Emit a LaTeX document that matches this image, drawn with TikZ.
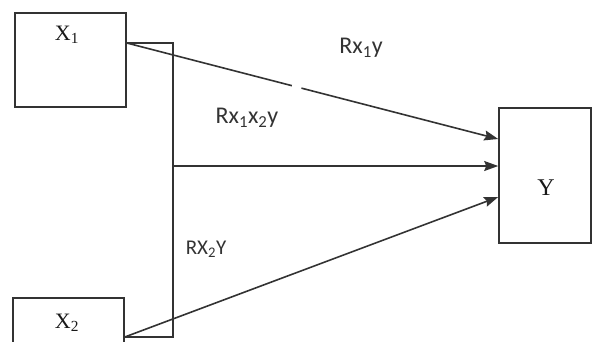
\documentclass[tikz,border=0pt]{standalone}
\usepackage{fontspec}
\setmainfont{Liberation Serif}
\newfontfamily\lblfont{Carlito}
\usetikzlibrary{arrows.meta,calc}
\definecolor{ln}{HTML}{333333}
\tikzset{
  box/.style={draw=ln, line width=1.6pt, fill=white, inner sep=0pt},
  conn/.style={draw=ln, line width=1.6pt},
  arr/.style={conn, -{Stealth[length=14pt,width=10pt,inset=2pt]}},
  vartext/.style={font=\fontsize{22}{26}\selectfont, text=black!90, inner sep=0pt},
  rlabel/.style={font=\lblfont\fontsize{24}{28}\selectfont, text=black!80, inner sep=0pt},
}
\begin{document}
\begin{tikzpicture}[x=1pt,y=-1pt]
\useasboundingbox (0,0) rectangle (593,341);
% boxes
\node[box, minimum width=111pt, minimum height=94pt] (x1) at (70.5,60) {};
\node[box, minimum width=111pt, minimum height=60pt] (x2) at (68.5,328) {};
\node[box, minimum width=92pt, minimum height=135pt] (y) at (545,175.5) {};
% texts
\node[vartext] (x1t) at (67,35) {X\textsubscript{1}};
\node[vartext] (x2t) at (67,323) {X\textsubscript{2}};
\node[vartext, font=\fontsize{24}{28}\selectfont] (yt) at (546,188) {Y};
% anchor points
\coordinate (s1) at (x1.east |- 0,43);
\coordinate (c1) at (173,43);
\coordinate (c2) at (173,166);
\coordinate (c3) at (173,337);
\coordinate (s2) at (x2.east |- 0,337);
\coordinate (t1) at (y.west |- 0,139);
\coordinate (t2) at (y.west |- 0,166);
\coordinate (t3) at (y.west |- 0,197);
% bracket
\draw[conn, line join=miter] (s1) -- (c1) -- (c3) -- (s2);
% arrows
\draw[arr] (s1) -- (t1);
\draw[white, line width=4pt] ($(s1)!0.445!(t1)$) -- ($(s1)!0.47!(t1)$);
\draw[arr] (c2) -- (t2);
\draw[arr] (s2) -- (t3);
% labels
\node[rlabel] (l1) at (361,48) {Rx\textsubscript{1}y};
\node[rlabel] (l2) at (247,118) {Rx\textsubscript{1}x\textsubscript{2}y};
\node[rlabel, font=\lblfont\fontsize{21}{25}\selectfont] (l3) at (206,249) {RX\textsubscript{2}Y};
\end{tikzpicture}
\end{document}
